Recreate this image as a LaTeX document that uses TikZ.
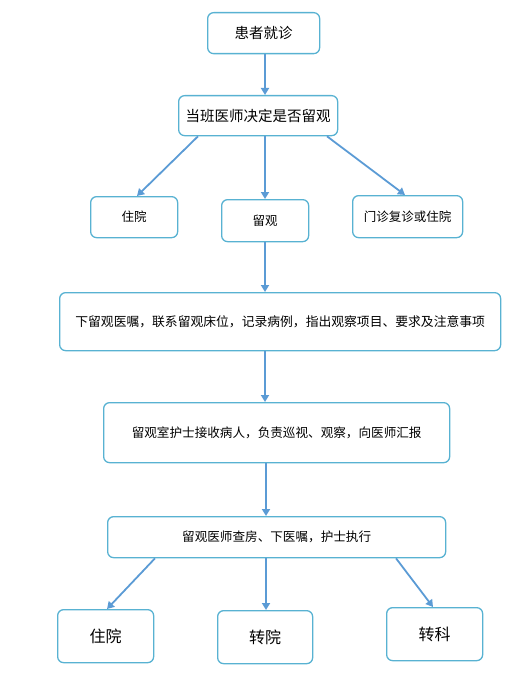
\documentclass[tikz,border=0pt]{standalone}
\usepackage{fontspec}
\setmainfont{Noto Sans CJK SC}
\usetikzlibrary{arrows.meta}
\definecolor{boxline}{RGB}{88,178,210}
\definecolor{arrowc}{RGB}{91,155,213}
\begin{document}
\begin{tikzpicture}[x=1bp,y=-1bp,
  box/.style={draw=boxline,line width=1.3bp,rounded corners=6bp,fill=white,inner sep=0pt,anchor=north west},
  conn/.style={draw=arrowc,line width=1.8bp,-{Triangle[length=7bp,width=8bp]}}]
\useasboundingbox (0,0) rectangle (527,676);
% row 1, 2
\node[box,minimum width=112bp,minimum height=41bp,font=\fontsize{14.5bp}{16bp}\selectfont] (a) at (207,12) {患者就诊};
\node[box,minimum width=159bp,minimum height=40bp,font=\fontsize{14.5bp}{16bp}\selectfont] (b) at (178,95) {当班医师决定是否留观};
% row 3
\node[box,minimum width=87bp,minimum height=41bp,font=\fontsize{12.5bp}{14bp}\selectfont] (c1) at (90,196) {住院};
\node[box,minimum width=87bp,minimum height=42bp,font=\fontsize{12.5bp}{14bp}\selectfont] (c2) at (221,199) {留观};
\node[box,minimum width=110bp,minimum height=42bp,font=\fontsize{12.5bp}{14bp}\selectfont] (c3) at (352,195) {门诊复诊或住院};
% main column
\node[box,minimum width=441bp,minimum height=58bp,font=\fontsize{12.8bp}{14bp}\selectfont] (d) at (59,292) {下留观医嘱，联系留观床位，记录病例，指出观察项目、要求及注意事项};
\node[box,minimum width=346bp,minimum height=60bp,font=\fontsize{12.6bp}{14bp}\selectfont] (e) at (103,402) {留观室护士接收病人，负责巡视、观察，向医师汇报};
\node[box,minimum width=338bp,minimum height=41bp,font=\fontsize{12.6bp}{14bp}\selectfont] (f) at (107,516) {留观医师查房、下医嘱，护士执行};
% bottom row
\node[box,minimum width=96bp,minimum height=53bp,font=\fontsize{16bp}{18bp}\selectfont] (g1) at (57,609) {住院};
\node[box,minimum width=95bp,minimum height=53bp,font=\fontsize{16bp}{18bp}\selectfont] (g2) at (217,610) {转院};
\node[box,minimum width=96bp,minimum height=53bp,font=\fontsize{16bp}{18bp}\selectfont] (g3) at (386,607) {转科};
% connectors
\draw[conn] (a.south -| 265,0) -- (b.north -| 265,0);
\draw[conn] (b.south -| 198,0) -- (137,196);
\draw[conn] (b.south -| 265,0) -- (c2.north -| 265,0);
\draw[conn] (b.south -| 327,0) -- (405,195);
\draw[conn] (c2.south -| 265,0) -- (d.north -| 265,0);
\draw[conn] (d.south -| 265,0) -- (e.north -| 265,0);
\draw[conn] (e.south -| 266,0) -- (f.north -| 266,0);
\draw[conn] (f.south -| 155,0) -- (g1.north -| 107,0);
\draw[conn] (f.south -| 266,0) -- (g2.north -| 266,0);
\draw[conn] (f.south -| 396,0) -- (g3.north -| 433,0);
\end{tikzpicture}
\end{document}
